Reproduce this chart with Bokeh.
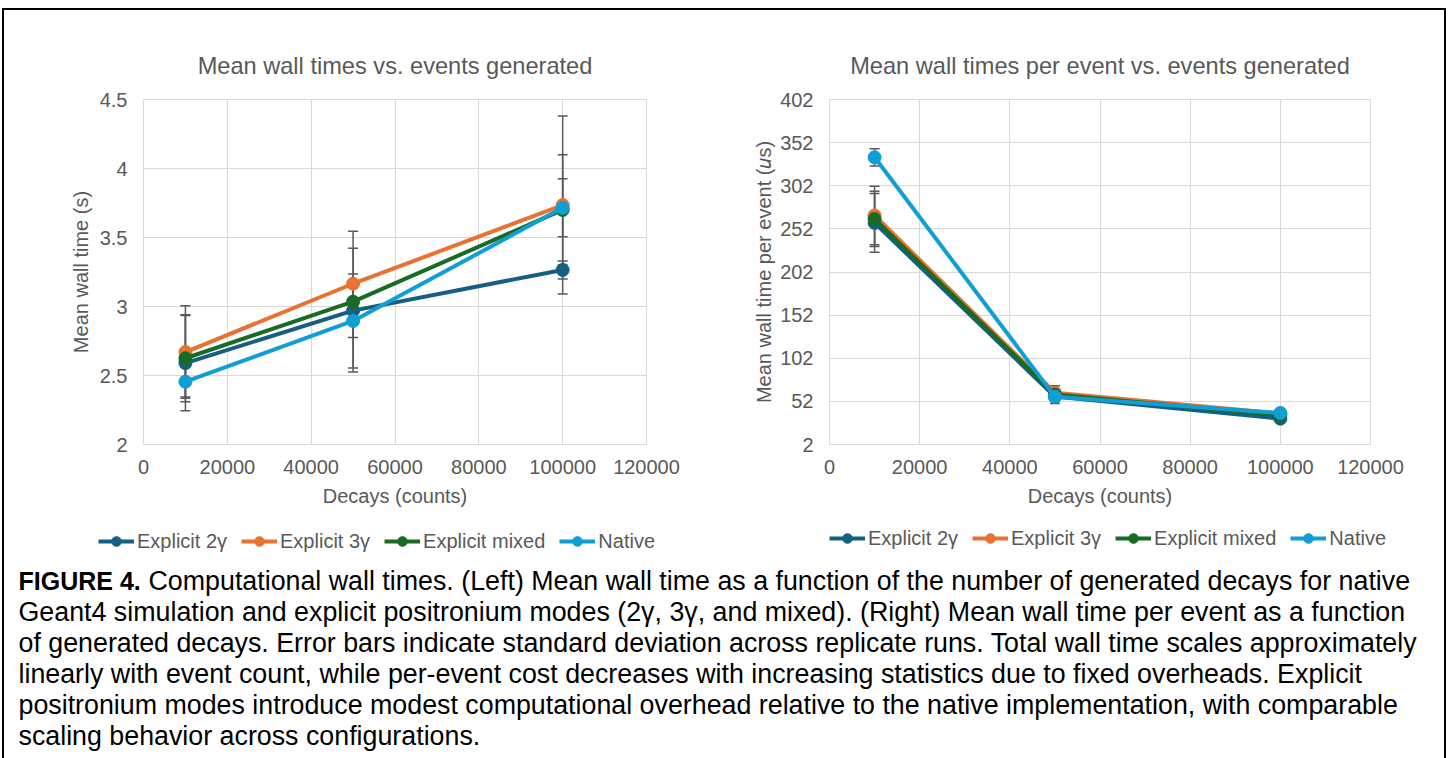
from bokeh.plotting import figure
from bokeh.models import (ColumnDataSource, Whisker, TeeHead, Legend, LegendItem,
                          FixedTicker, Range1d, NumeralTickFormatter)
from bokeh.layouts import column, row
from bokeh.embed import file_html
from bokeh.resources import INLINE
from bokeh.core.properties import value

# ---------------- data ----------------
decays = [10000, 50000, 100000]
series_names = ["Explicit 2γ", "Explicit 3γ", "Explicit mixed", "Native"]
series_colors = ["#156082", "#E97132", "#196B24", "#0F9ED5"]

# mean wall time (s)
wall_2g = [2.59, 2.97, 3.265]
wall_3g = [2.67, 3.165, 3.735]
wall_mixed = [2.625, 3.035, 3.70]
wall_native = [2.455, 2.895, 3.715]
# standard deviation (s)
wall_2g_sd = [0.345, 0.194, 0.065]
wall_3g_sd = [0.335, 0.258, 0.645]
wall_mixed_sd = [0.315, 0.51, 0.40]
wall_native_sd = [0.11, 0.34, 0.21]

# mean wall time per event (us)
per_2g = [259, 57.5, 32]
per_3g = [267.5, 62, 38]
per_mixed = [263.5, 60, 36]
per_native = [335, 57.5, 38.5]
per_2g_sd = [34, 8, 2]
per_3g_sd = [34, 8, 2]
per_mixed_sd = [32, 7, 2]
per_native_sd = [10, 5, 2]

x_ticks = [0, 20000, 40000, 60000, 80000, 100000, 120000]
left_y_ticks = [2, 2.5, 3, 3.5, 4, 4.5]
right_y_ticks = [2, 52, 102, 152, 202, 252, 302, 352, 402]

left_title = "Mean wall times vs. events generated"
right_title = "Mean wall times per event vs. events generated"
x_label = "Decays (counts)"
left_y_label = "Mean wall time (s)"
right_y_label = "Mean wall time per event (\U0001D462s)"

caption_bold = "FIGURE 4."
caption_first = ("Computational wall times. (Left) Mean wall time as a function of the number "
                 "of generated decays for native")
caption_lines = [
    "Geant4 simulation and explicit positronium modes (2γ, 3γ, and mixed). (Right) Mean wall time per event as a function",
    "of generated decays. Error bars indicate standard deviation across replicate runs. Total wall time scales approximately",
    "linearly with event count, while per-event cost decreases with increasing statistics due to fixed overheads. Explicit",
    "positronium modes introduce modest computational overhead relative to the native implementation, with comparable",
    "scaling behavior across configurations.",
]

FONT = "Liberation Sans"
GRAY = "#595959"
CHART_H = 510
LEG_H = 40


def make_chart(title, ylabel, means, sds, y_ticks, y_fmt, y_range, width,
               mb_left, mb_right, ylabel_standoff, title_offset):
    p = figure(width=width, height=CHART_H, output_backend="svg", toolbar_location=None,
               x_range=Range1d(0, 120000), y_range=Range1d(*y_range),
               min_border_left=mb_left, min_border_right=mb_right,
               min_border_top=89, min_border_bottom=CHART_H - 89 - 345, title=title)
    p.title.text_font = FONT
    p.title.text_font_size = "23.6px"
    p.title.text_font_style = "normal"
    p.title.text_color = GRAY
    p.title.align = "center"
    p.title.standoff = 41
    p.title.offset = title_offset

    p.xaxis.ticker = FixedTicker(ticks=x_ticks)
    p.yaxis.ticker = FixedTicker(ticks=y_ticks)
    p.xaxis.formatter = NumeralTickFormatter(format="0")
    p.yaxis.formatter = NumeralTickFormatter(format=y_fmt)
    for ax in (p.xaxis, p.yaxis):
        ax.axis_line_color = None
        ax.major_tick_line_color = None
        ax.minor_tick_line_color = None
        ax.major_tick_out = 0
        ax.major_tick_in = 0
        ax.minor_tick_out = 0
        ax.minor_tick_in = 0
        ax.major_label_text_font = FONT
        ax.major_label_text_font_size = "20px"
        ax.major_label_text_color = GRAY
        ax.axis_label_text_font = FONT
        ax.axis_label_text_font_size = "20px"
        ax.axis_label_text_font_style = "normal"
        ax.axis_label_text_color = GRAY
    p.xaxis.major_label_standoff = 15
    p.yaxis.major_label_standoff = 16
    p.xaxis.axis_label = x_label
    p.yaxis.axis_label = ylabel
    p.xaxis.axis_label_standoff = 8
    p.yaxis.axis_label_standoff = ylabel_standoff

    p.grid.grid_line_color = "#D9D9D9"
    p.grid.grid_line_width = 1
    p.outline_line_color = "#D9D9D9"
    p.outline_line_width = 1
    p.background_fill_color = "white"
    p.border_fill_color = "white"

    for name, color, m, sd in zip(series_names, series_colors, means, sds):
        src = ColumnDataSource(dict(x=decays, y=m,
                                    upper=[a + b for a, b in zip(m, sd)],
                                    lower=[a - b for a, b in zip(m, sd)]))
        w = Whisker(base="x", upper="upper", lower="lower", source=src,
                    line_color="#595959", line_width=1.5,
                    upper_head=TeeHead(size=10, line_color="#595959", line_width=1.5),
                    lower_head=TeeHead(size=10, line_color="#595959", line_width=1.5))
        p.add_layout(w)
    for name, color, m, sd in zip(series_names, series_colors, means, sds):
        src = ColumnDataSource(dict(x=decays, y=m))
        p.line("x", "y", source=src, line_color=color, line_width=4)
        p.scatter("x", "y", source=src, size=13, fill_color=color, line_color=color)
    return p


def make_legend(width, lx, ly, means):
    # a strip that only carries the legend: its series lie outside its (0, 1) ranges
    f = figure(width=width, height=LEG_H, output_backend="svg", toolbar_location=None,
               x_range=Range1d(0, 1), y_range=Range1d(0, 1),
               min_border=0, min_border_left=0, min_border_right=0,
               min_border_top=0, min_border_bottom=0)
    f.axis.visible = False
    f.grid.visible = False
    f.outline_line_color = None
    items = []
    for name, color, m in zip(series_names, series_colors, means):
        src = ColumnDataSource(dict(x=decays, y=m))
        lr = f.line("x", "y", source=src, line_color=color, line_width=4)
        sr = f.scatter("x", "y", source=src, size=13, fill_color=color, line_color=color)
        items.append(LegendItem(label=name, renderers=[lr, sr]))
    leg = Legend(items=items, orientation="horizontal", location=(lx, ly),
                 label_text_font=FONT, label_text_font_size="20px", label_text_color=GRAY,
                 glyph_width=36, glyph_height=24, label_standoff=3, spacing=14,
                 padding=0, margin=0, border_line_color=None, background_fill_alpha=0)
    f.add_layout(leg)
    return f


left_means = [wall_2g, wall_3g, wall_mixed, wall_native]
right_means = [per_2g, per_3g, per_mixed, per_native]

p_left = make_chart(left_title, left_y_label, left_means,
                    [wall_2g_sd, wall_3g_sd, wall_mixed_sd, wall_native_sd],
                    left_y_ticks, "0.[0]", (2, 4.5), 696, 139, 54, 5, -8)
p_right = make_chart(right_title, right_y_label, right_means,
                     [per_2g_sd, per_3g_sd, per_mixed_sd, per_native_sd],
                     right_y_ticks, "0", (2, 402), 744, 129, 74, 2, -3)

leg_left = make_legend(696, 94, 7, left_means)
leg_right = make_legend(744, 129, 10, right_means)

# ---------------- caption ----------------
CAP_H = 758 - 10 - CHART_H - LEG_H
cap = figure(width=1440, height=CAP_H, output_backend="svg", toolbar_location=None,
             x_range=Range1d(0, 1440), y_range=Range1d(CAP_H, 0),
             min_border=0, min_border_left=0, min_border_right=0,
             min_border_top=0, min_border_bottom=0)
cap.axis.visible = False
cap.grid.visible = False
cap.outline_line_color = None
cap.text(x=[14], y=[20], text=[caption_bold], text_font=value(FONT),
         text_font_size="25px", text_font_style="bold", text_baseline="middle",
         text_color="black")
cap.text(x=[144], y=[20], text=[caption_first], text_font=value(FONT),
         text_font_size="26.8px", text_baseline="middle", text_color="black")
cap.text(x=[14] * len(caption_lines), y=[51 + 31 * i for i in range(len(caption_lines))],
         text=caption_lines, text_font=value(FONT), text_font_size="26.8px",
         text_baseline="middle", text_color="black")

layout = column(row(p_left, p_right), row(leg_left, leg_right), cap, margin=(8, 0, 0, 2),
                styles={"border-top": "2px solid black", "border-left": "2px solid black",
                        "border-right": "2px solid black"})
open("out.html", "w").write(file_html(layout, INLINE))
